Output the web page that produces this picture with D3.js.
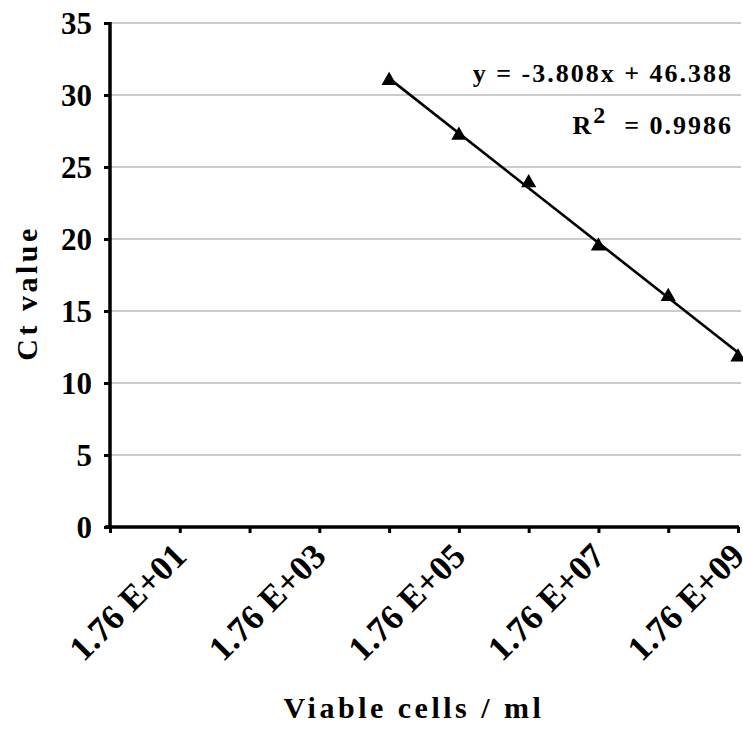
<!DOCTYPE html>
<html>
<head>
<meta charset="utf-8">
<script src="https://cdn.jsdelivr.net/npm/d3@7"></script>
<style>
  body { margin: 0; background: #fff; }
  svg text { font-family: "Liberation Serif", "Times New Roman", serif; font-weight: bold; fill: #000; }
</style>
</head>
<body>
<div id="ct-chart"><svg class="canvas"><g class="chart"></g></svg></div>
<script>
// viable cells per ml for each dilution, and the Ct
const cellCounts = [1.76e4, 1.76e5, 1.76e6, 1.76e7, 1.76e8, 1.76e9];
const ctValues = [31.0, 27.2, 23.9, 19.5, 16.0, 11.8];
const xTickValues = [1.76e0, 1.76e1, 1.76e2, 1.76e3, 1.76e4, 1.76e5, 1.76e6, 1.76e7, 1.76e8, 1.76e9];
const xTickLabels = ['', '1.76 E+01', '', '1.76 E+03', '', '1.76 E+05', '', '1.76 E+07', '', '1.76 E+09'];
const yTickValues = [0, 5, 10, 15, 20, 25, 30, 35];
const trendSlope = -3.808;
const trendIntercept = 46.388;

let canvasWidth = 743;
let canvasHeight = 733;
let canvas = d3.select('#ct-chart .canvas')
    .attr('width', canvasWidth)
    .attr('height', canvasHeight);

let chartMargins = { left: 110, right: 5, top: 23, bottom: 206 };
let chartWidth = canvasWidth - chartMargins.left - chartMargins.right;
let chartHeight = canvasHeight - chartMargins.top - chartMargins.bottom;

let chart = canvas.select('.chart')
    .attr('transform', `translate(${chartMargins.left}, ${chartMargins.top})`);

let xScale = d3.scaleLog()
    .domain([xTickValues[0], xTickValues[xTickValues.length - 1]])
    .range([0, chartWidth]);

let yScale = d3.scaleLinear()
    .domain([0, 35])
    .range([chartHeight, 0]);

// horizontal gridlines
chart.append('g')
    .selectAll('line')
    .data(yTickValues.filter(v => v > 0))
    .enter()
    .append('line')
    .attr('x1', 0)
    .attr('x2', chartWidth + 3)
    .attr('y1', d => yScale(d))
    .attr('y2', d => yScale(d))
    .attr('stroke', '#9a9a9a')
    .attr('stroke-width', 1.2);

// trend line, from the fitted equation (x = decade)
let trendX = [cellCounts[0], cellCounts[cellCounts.length - 1]];
let trendData = trendX.map(c => [c, trendSlope * Math.log10(c / 1.76) + trendIntercept]);
chart.append('path')
    .datum(trendData)
    .attr('fill', 'none')
    .attr('stroke', '#000')
    .attr('stroke-width', 2.6)
    .attr('d', d3.line().x(d => xScale(d[0])).y(d => yScale(d[1])));

// triangle markers
chart.selectAll('.dot')
    .data(d3.zip(cellCounts, ctValues))
    .enter()
    .append('path')
    .attr('class', 'dot')
    .attr('transform', d => `translate(${xScale(d[0])}, ${yScale(d[1])})`)
    .attr('d', d3.symbol().type(d3.symbolTriangle).size(100))
    .attr('fill', '#000');

// axes
let xAxis = d3.axisBottom(xScale)
    .tickValues(xTickValues)
    .tickFormat((d, i) => xTickLabels[i])
    .tickSizeInner(6)
    .tickSizeOuter(0);
let xAxisG = chart.append('g')
    .attr('transform', `translate(0, ${chartHeight})`)
    .call(xAxis);
xAxisG.select('.domain').attr('stroke-width', 3.5).attr('d', `M-5,0H${chartWidth + 1}`);
xAxisG.selectAll('.tick line').attr('stroke-width', 3);
xAxisG.selectAll('.tick text')
    .attr('x', 0).attr('y', 0).attr('dy', 0)
    .attr('transform', 'translate(8, 31) rotate(-45)')
    .attr('text-anchor', 'end')
    .style('font-size', '35px');

let yAxis = d3.axisLeft(yScale)
    .tickValues(yTickValues)
    .tickSizeInner(6)
    .tickSizeOuter(0)
    .tickPadding(12);
let yAxisG = chart.append('g').call(yAxis);
yAxisG.select('.domain').attr('stroke-width', 3.5).attr('d', `M0,${chartHeight + 1}V-1`);
yAxisG.selectAll('.tick line').attr('stroke-width', 3);
yAxisG.selectAll('.tick text')
    .attr('dy', '0.34em')
    .style('font-size', '31px');

// axis titles
canvas.append('text')
    .attr('transform', 'translate(37, 293) rotate(-90)')
    .attr('text-anchor', 'middle')
    .style('font-size', '30px')
    .style('letter-spacing', '3.5px')
    .text('Ct value');

canvas.append('text')
    .attr('x', 414)
    .attr('y', 718)
    .attr('text-anchor', 'middle')
    .style('font-size', '30px')
    .style('letter-spacing', '3.5px')
    .text('Viable cells / ml');

// fit equation
canvas.append('text')
    .attr('x', 733)
    .attr('y', 82)
    .attr('text-anchor', 'end')
    .style('font-size', '26px')
    .style('letter-spacing', '2px')
    .text(`y = ${trendSlope}x + ${trendIntercept}`);

let r2 = canvas.append('text')
    .attr('x', 733)
    .attr('y', 134)
    .attr('text-anchor', 'end')
    .style('font-size', '26px')
    .style('letter-spacing', '2px');
r2.append('tspan').text('R');
r2.append('tspan').attr('dy', -11).style('font-size', '24px').text('2');
r2.append('tspan').attr('dy', 11).text('\u00a0 = 0.9986');
</script>
</body>
</html>
